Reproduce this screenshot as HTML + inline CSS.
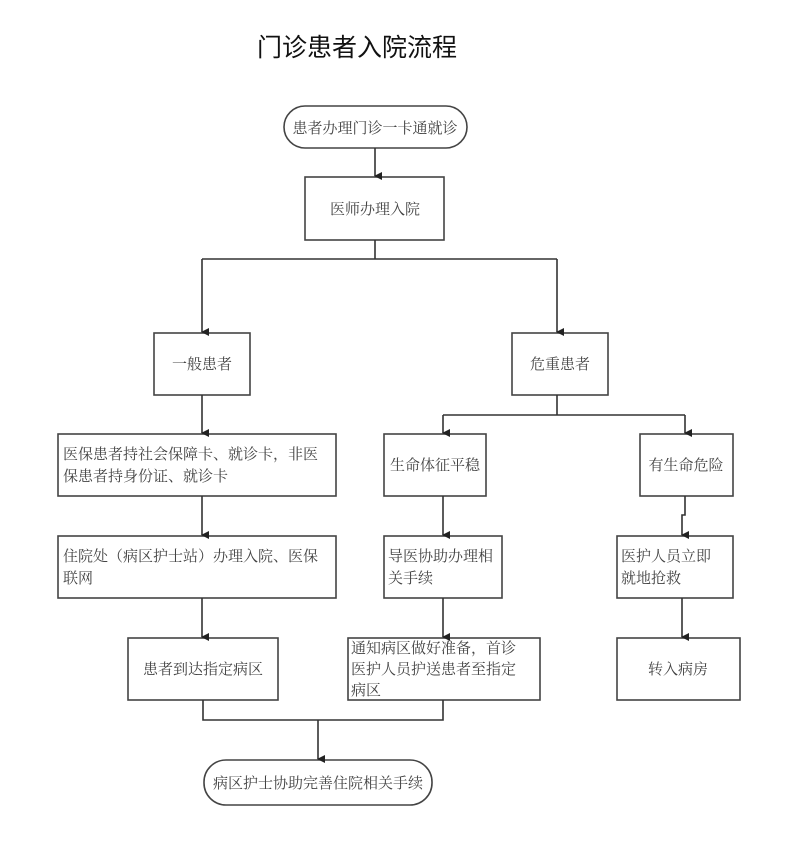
<!DOCTYPE html>
<html><head><meta charset="utf-8"><style>
body{margin:0;background:#fff;}
svg text{font-family:"Liberation Serif","Noto Serif CJK SC",serif;fill:#444;}
svg text.t{font-family:"Liberation Sans","Noto Sans CJK SC",sans-serif;fill:#111;}
</style></head><body>
<svg width="788" height="844" xmlns="http://www.w3.org/2000/svg">
<defs><marker id="a" markerWidth="8" markerHeight="8" refX="4" refY="7" orient="auto" markerUnits="userSpaceOnUse"><path d="M0,0 L8,0 L4,8 z" fill="#222"/></marker></defs>
<text class="t" x="357" y="56" font-size="25" text-anchor="middle">门诊患者入院流程</text>
<g fill="none" stroke="#444" stroke-width="1.6">
<rect x="284" y="106" width="183" height="42" rx="21"/>
<rect x="305" y="177" width="139" height="63"/>
<rect x="154" y="333" width="96" height="62"/>
<rect x="512" y="333" width="96" height="62"/>
<rect x="58" y="434" width="278" height="62"/>
<rect x="384" y="434" width="102" height="62"/>
<rect x="640" y="434" width="93" height="62"/>
<rect x="58" y="536" width="278" height="62"/>
<rect x="384" y="536" width="118" height="62"/>
<rect x="617" y="536" width="116" height="62"/>
<rect x="128" y="638" width="150" height="62"/>
<rect x="348" y="638" width="192" height="62"/>
<rect x="617" y="638" width="123" height="62"/>
<rect x="204" y="760" width="228" height="45" rx="22"/>
</g>
<g fill="none" stroke="#333" stroke-width="1.6">
<path d="M375 148 V176" marker-end="url(#a)"/>
<path d="M375 240 V259 M202 259 H557"/>
<path d="M202 259 V332" marker-end="url(#a)"/>
<path d="M557 259 V332" marker-end="url(#a)"/>
<path d="M202 395 V433" marker-end="url(#a)"/>
<path d="M557 395 V415 M443 415 H685"/>
<path d="M443 415 V433" marker-end="url(#a)"/>
<path d="M685 415 V433" marker-end="url(#a)"/>
<path d="M202 496 V535" marker-end="url(#a)"/>
<path d="M443 496 V535" marker-end="url(#a)"/>
<path d="M685 496 V515 H682 V535" marker-end="url(#a)"/>
<path d="M202 598 V637" marker-end="url(#a)"/>
<path d="M443 598 V637" marker-end="url(#a)"/>
<path d="M682 598 V637" marker-end="url(#a)"/>
<path d="M203 700 V720 H443 V700"/>
<path d="M318 720 V759" marker-end="url(#a)"/>
</g>
<g font-size="15">
<text x="375" y="133" text-anchor="middle">患者办理门诊一卡通就诊</text>
<text x="375" y="214" text-anchor="middle">医师办理入院</text>
<text x="202" y="369" text-anchor="middle">一般患者</text>
<text x="560" y="369" text-anchor="middle">危重患者</text>
<text x="63" y="459">医保患者持社会保障卡、就诊卡，非医</text>
<text x="63" y="481">保患者持身份证、就诊卡</text>
<text x="435" y="470" text-anchor="middle">生命体征平稳</text>
<text x="686" y="470" text-anchor="middle">有生命危险</text>
<text x="63" y="561">住院处（病区护士站）办理入院、医保</text>
<text x="63" y="583">联网</text>
<text x="388" y="561">导医协助办理相</text>
<text x="388" y="583">关手续</text>
<text x="621" y="561">医护人员立即</text>
<text x="621" y="583">就地抢救</text>
<text x="203" y="674" text-anchor="middle">患者到达指定病区</text>
<text x="351" y="653">通知病区做好准备，首诊</text>
<text x="351" y="674">医护人员护送患者至指定</text>
<text x="351" y="695">病区</text>
<text x="678" y="674" text-anchor="middle">转入病房</text>
<text x="318" y="788" text-anchor="middle">病区护士协助完善住院相关手续</text>
</g>
</svg>
</body></html>
